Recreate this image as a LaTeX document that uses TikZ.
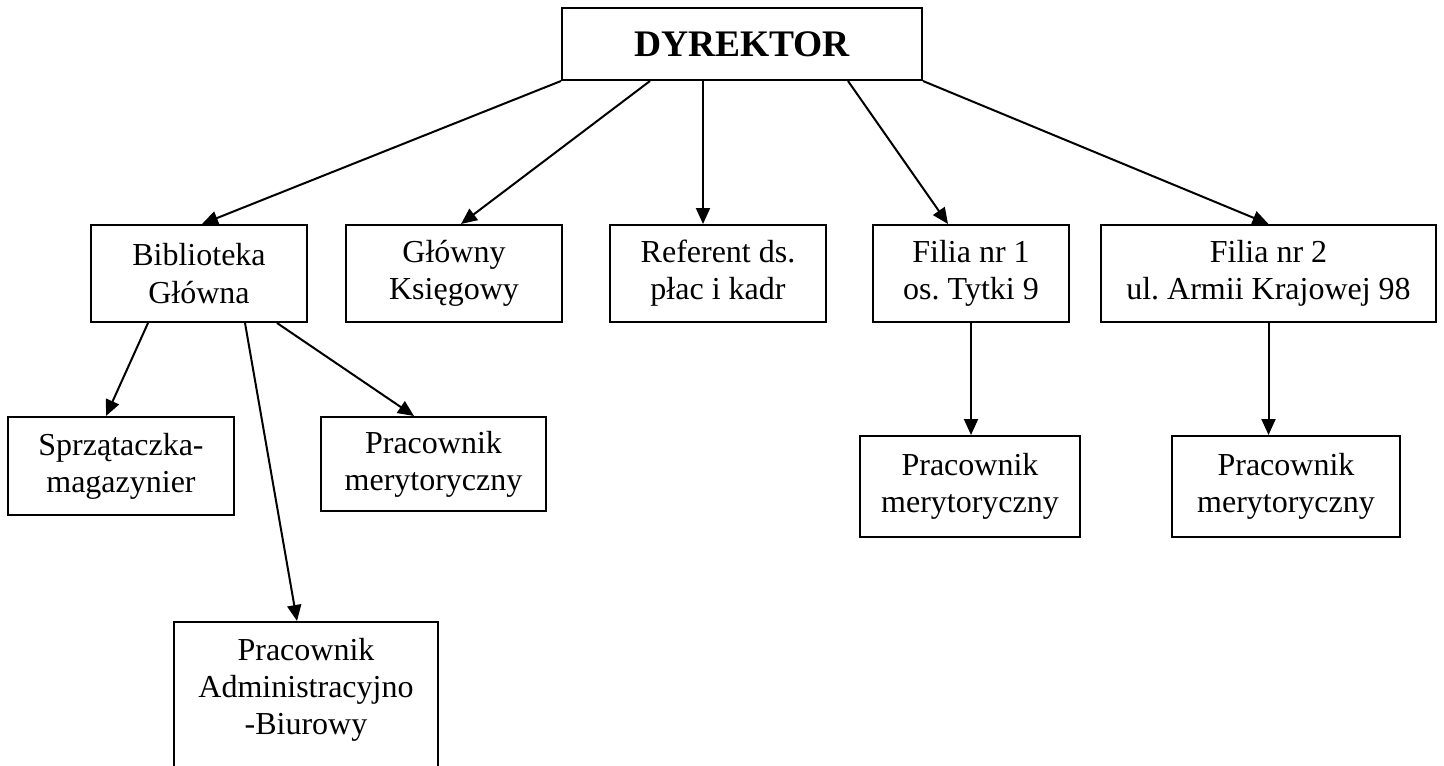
\documentclass[tikz,border=0pt]{standalone}
\usepackage{fontspec}
\setmainfont{Liberation Serif}
\usetikzlibrary{arrows.meta,calc}
\frenchspacing
\begin{document}
\begin{tikzpicture}[x=0.5pt,y=-0.5pt,
  box/.style={draw, line width=1pt, inner sep=0pt, align=center,
    font=\fontsize{16pt}{18.6pt}\selectfont},
  conn/.style={line width=1pt, -{Triangle[length=8pt,width=7pt]}}]
\useasboundingbox (0,0) rectangle (1444,765);
\clip (0,0) rectangle (1444,765);
\fill[white] (0,0) rectangle (1444,765);

\node[box, minimum width=180pt, minimum height=36pt,
  font=\fontsize{18.75pt}{22pt}\selectfont\bfseries] (dyr) at (742,44) {DYREKTOR};

\node[box, minimum width=108pt, minimum height=48.5pt] (bib) at (199,273.5) {Biblioteka\\Główna};
\node[box, minimum width=108pt, minimum height=48.5pt] (ks) at (454,273.5) {Główny\\Księgowy};
\node[box, minimum width=108pt, minimum height=48.5pt] (ref) at (718,273.5) {Referent ds.\\płac i kadr};
\node[box, minimum width=98pt, minimum height=48.5pt] (f1) at (971,273.5) {Filia nr 1\\os. Tytki 9};
\node[box, minimum width=167.5pt, minimum height=48.5pt] (f2) at (1268.5,273.5) {Filia nr 2\\ul. Armii Krajowej 98};

\node[box, minimum width=113pt, minimum height=49pt] (sp) at (121,466) {Sprzątaczka-\\magazynier};
\node[box, minimum width=112.5pt, minimum height=47pt] (mer) at (433.5,464) {Pracownik\\merytoryczny};
\node[box] (adm) at (306,697) {\parbox[c][75pt][t]{132pt}{\centering\rule{0pt}{19pt}Pracownik\\Administracyjno\\-Biurowy}};

\node[box, minimum width=110pt, minimum height=50.5pt] (p1) at (970,486.5) {Pracownik\\merytoryczny};
\node[box, minimum width=114pt, minimum height=50.5pt] (p2) at (1286,486.5) {Pracownik\\merytoryczny};

\coordinate (rt) at ([xshift=-19.5pt]dyr.south);

\draw[conn] (dyr.south west) -- ([xshift=1.5pt]bib.north);
\draw[conn] ([xshift=-46pt]dyr.south) -- ([xshift=3.5pt]ks.north);
\draw[conn] (rt) -- (rt |- ref.north);
\draw[conn] ([xshift=53pt]dyr.south) -- ([xshift=-11.5pt]f1.north);
\draw[conn] (dyr.south east) -- (f2.north);

\draw[conn] ([xshift=-25.5pt]bib.south) -- ([xshift=-7.5pt]sp.north);
\draw[conn] ([xshift=23pt]bib.south) -- ([xshift=-4.5pt]adm.north);
\draw[conn] ([xshift=39pt]bib.south) -- ([xshift=-9.75pt]mer.north);

\draw[conn] (f1.south) -- (f1.south |- p1.north);
\draw[conn] (f2.south) -- (f2.south |- p2.north);
\end{tikzpicture}
\end{document}
